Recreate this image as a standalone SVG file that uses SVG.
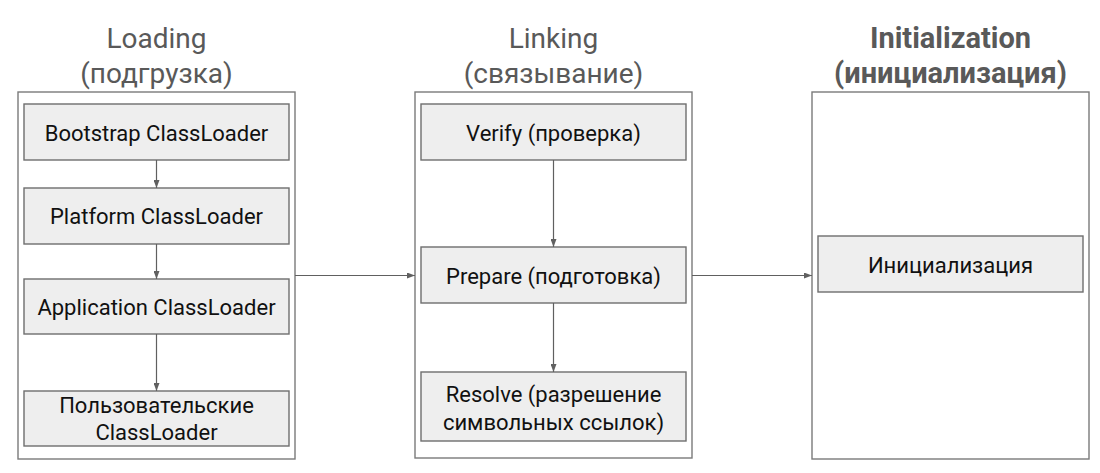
<svg xmlns="http://www.w3.org/2000/svg" width="1100" height="473" viewBox="0 0 1100 473">
<style>
.title{font-family:Roboto,"Noto Sans",sans-serif;font-size:28px;fill:#595959;text-anchor:middle}
.bold{font-weight:bold;font-size:29px}
.cont{fill:#ffffff;stroke:#7a7a7a;stroke-width:1.4}
.box{fill:#eeeeee;stroke:#6e6e6e;stroke-width:1.4}
.lbl{font-family:Roboto,"Noto Sans",sans-serif;font-size:22px;fill:#111111;text-anchor:middle}
.edge{stroke:#606060;stroke-width:1.2;fill:none}
</style>
<defs>
<marker id="ah" markerWidth="8" markerHeight="6" refX="8" refY="3" orient="auto" markerUnits="userSpaceOnUse">
<path d="M0,0 L8,3 L0,6 z" fill="#606060"/>
</marker>
</defs>
<rect width="1100" height="473" fill="#ffffff"/>
<g id="loading">
<text class="title" x="156.5" y="48">Loading</text>
<text class="title" x="156.5" y="83">(подгрузка)</text>
<rect class="cont" x="18" y="92" width="277" height="367"/>
</g>
<g id="linking">
<text class="title" x="553.5" y="48">Linking</text>
<text class="title" x="553.5" y="83">(связывание)</text>
<rect class="cont" x="415" y="92" width="277" height="366"/>
</g>
<g id="initialization">
<text class="title bold" x="950.5" y="48">Initialization</text>
<text class="title bold" x="950.5" y="83">(инициализация)</text>
<rect class="cont" x="812" y="92" width="277" height="367"/>
</g>
<g id="bootstrap">
<rect class="box" x="24" y="104" width="265" height="56"/>
<text class="lbl" x="156.5" y="140.5">Bootstrap ClassLoader</text>
</g>
<g id="platform">
<rect class="box" x="24" y="188" width="265" height="56"/>
<text class="lbl" x="156.5" y="224">Platform ClassLoader</text>
</g>
<g id="application">
<rect class="box" x="24" y="279" width="265" height="55"/>
<text class="lbl" x="156.5" y="315">Application ClassLoader</text>
</g>
<g id="user">
<rect class="box" x="24" y="391" width="265" height="55"/>
<text class="lbl" x="156.5" y="412.5">Пользовательские</text>
<text class="lbl" x="156.5" y="439.5">ClassLoader</text>
</g>
<g id="verify">
<rect class="box" x="421" y="104" width="265" height="56"/>
<text class="lbl" x="553.5" y="141">Verify (проверка)</text>
</g>
<g id="prepare">
<rect class="box" x="421" y="247" width="265" height="56"/>
<text class="lbl" x="553.5" y="284">Prepare (подготовка)</text>
</g>
<g id="resolve">
<rect class="box" x="421" y="372" width="265" height="69"/>
<text class="lbl" x="553.5" y="401.5">Resolve (разрешение</text>
<text class="lbl" x="553.5" y="429.5">символьных ссылок)</text>
</g>
<g id="init">
<rect class="box" x="818" y="236" width="265" height="56"/>
<text class="lbl" x="950.5" y="272.5">Инициализация</text>
</g>
<g id="connectors">
<line class="edge" x1="156.5" y1="160" x2="156.5" y2="188" marker-end="url(#ah)"/>
<line class="edge" x1="156.5" y1="244" x2="156.5" y2="279" marker-end="url(#ah)"/>
<line class="edge" x1="156.5" y1="334" x2="156.5" y2="391" marker-end="url(#ah)"/>
<line class="edge" x1="553.5" y1="160" x2="553.5" y2="247" marker-end="url(#ah)"/>
<line class="edge" x1="553.5" y1="303" x2="553.5" y2="372" marker-end="url(#ah)"/>
<line class="edge" x1="295" y1="275.5" x2="415" y2="275.5" marker-end="url(#ah)"/>
<line class="edge" x1="692" y1="275.5" x2="812" y2="275.5" marker-end="url(#ah)"/>
</g>
</svg>
